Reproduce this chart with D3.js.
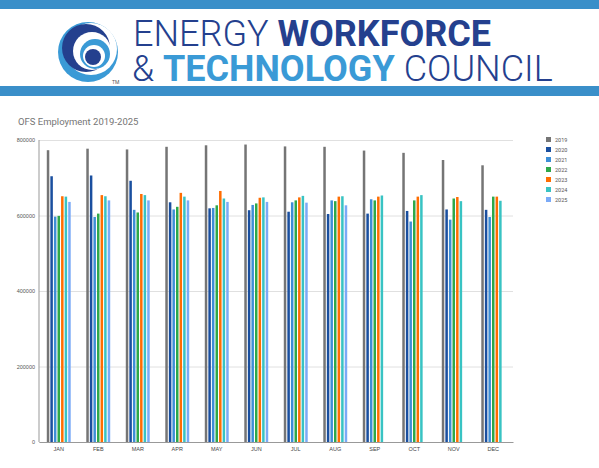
<!DOCTYPE html>
<html>
<head>
<meta charset="utf-8">
<script src="https://cdn.jsdelivr.net/npm/d3@7"></script>
<style>
  body { margin: 0; background: #fff; font-family: Roboto, "Liberation Sans", sans-serif; }
</style>
</head>
<body>
<svg id="chart" width="599" height="468"></svg>
<script>
const months = ["JAN", "FEB", "MAR", "APR", "MAY", "JUN", "JUL", "AUG", "SEP", "OCT", "NOV", "DEC"];
const years = ["2019", "2020", "2021", "2022", "2023", "2024", "2025"];
const colors = ["#757575", "#1a4f9f", "#3d8ed6", "#2ea84a", "#ff6d01", "#38c3c3", "#7baaf7"];
const yTicks = [0, 200000, 400000, 600000, 800000];

const v2019 = [773000, 777000, 775000, 782000, 786000, 788000, 783000, 782000, 772000, 766000, 747000, 733000];
const v2020 = [704000, 706000, 692000, 635000, 619000, 614000, 610000, 604000, 605000, 612000, 616000, 615000];
const v2021 = [597000, 596000, 615000, 616000, 620000, 628000, 635000, 640000, 643000, 584000, 589000, 596000];
const v2022 = [599000, 605000, 608000, 623000, 627000, 632000, 640000, 638000, 640000, 640000, 645000, 650000];
const v2023 = [651000, 654000, 657000, 660000, 665000, 647000, 648000, 650000, 650000, 650000, 649000, 650000];
const v2024 = [650000, 651000, 654000, 650000, 645000, 648000, 652000, 651000, 653000, 654000, 638000, 639000];
const v2025 = [636000, 640000, 640000, 640000, 636000, 636000, 634000, 627000];

const series = [v2019, v2020, v2021, v2022, v2023, v2024, v2025];

const svg = d3.select("#chart");

// header band
svg.append("rect").attr("x", 0).attr("y", 0).attr("width", 599).attr("height", 9).attr("fill", "#3a8fc9");
svg.append("rect").attr("x", 0).attr("y", 86).attr("width", 599).attr("height", 10).attr("fill", "#3a8fc9");

// logo
const logo = svg.append("g").attr("transform", "translate(88,52)");
logo.append("circle").attr("r", 30).attr("fill", "#3a9ad6");
logo.append("circle").attr("cx", 3).attr("cy", -3).attr("r", 26).attr("fill", "#fff");
logo.append("circle").attr("cx", -2).attr("cy", -4).attr("r", 24).attr("fill", "#24408e");
logo.append("circle").attr("cx", 4).attr("cy", -1).attr("r", 19).attr("fill", "#fff");
logo.append("circle").attr("cx", 7).attr("cy", 2).attr("r", 15).attr("fill", "#3a9ad6");
logo.append("circle").attr("cx", 6).attr("cy", 4).attr("r", 11).attr("fill", "#fff");
logo.append("circle").attr("cx", 5).attr("cy", 5).attr("r", 8).attr("fill", "#24408e");
svg.append("text").attr("x", 112).attr("y", 84).attr("font-size", 5).attr("fill", "#555").text("TM");

const h1 = svg.append("text").attr("x", 133).attr("y", 46).attr("font-size", 36).attr("font-family", "Roboto, sans-serif");
h1.append("tspan").attr("fill", "#24408e").attr("font-weight", 300).text("ENERGY ");
h1.append("tspan").attr("fill", "#24408e").attr("font-weight", 700).text("WORKFORCE");
const h2 = svg.append("text").attr("x", 132).attr("y", 81).attr("font-size", 36).attr("font-family", "Roboto, sans-serif");
h2.append("tspan").attr("fill", "#24408e").attr("font-weight", 300).text("& ");
h2.append("tspan").attr("fill", "#3a9ad6").attr("font-weight", 700).text("TECHNOLOGY ");
h2.append("tspan").attr("fill", "#24408e").attr("font-weight", 300).text("COUNCIL");

svg.append("text").attr("x", 18).attr("y", 125).attr("font-size", 9.5).attr("fill", "#757575").text("OFS Employment 2019-2025");

const margin = { top: 140, left: 39, right: 86, bottom: 26 };
const width = 599 - margin.left - margin.right;
const height = 468 - margin.top - margin.bottom;

const chart = svg.append("g").attr("transform", `translate(${margin.left},${margin.top})`);

const x0 = d3.scaleBand().domain(months).range([0, width]).paddingInner(0.34).paddingOuter(0.17);
const x1 = d3.scaleBand().domain(years).range([0, x0.bandwidth()]).padding(0.3);
const y = d3.scaleLinear().domain([0, 800000]).range([height, 0]);

chart.append("g")
  .call(d3.axisLeft(y).tickValues(yTicks).tickSize(-width).tickFormat(d3.format("d")))
  .call(g => g.select(".domain").remove())
  .call(g => g.selectAll("line").attr("stroke", "#e0e0e0"))
  .call(g => g.selectAll("text").attr("font-size", 5.5).attr("fill", "#555").attr("x", -4));

months.forEach((m, i) => {
  const grp = chart.append("g").attr("transform", `translate(${x0(m)},0)`);
  series.forEach((s, j) => {
    if (s[i] == null) return;
    grp.append("rect")
      .attr("x", x1(years[j]))
      .attr("y", y(s[i]))
      .attr("width", x1.bandwidth())
      .attr("height", height - y(s[i]))
      .attr("fill", colors[j]);
  });
});

chart.append("g")
  .attr("transform", `translate(0,${height})`)
  .call(d3.axisBottom(x0).tickSize(0).tickPadding(5))
  .call(g => g.select(".domain").attr("stroke", "#999"))
  .call(g => g.selectAll("text").attr("font-size", 5.5).attr("fill", "#444"));

chart.append("line").attr("x1", 0).attr("x2", 0).attr("y1", 0).attr("y2", height).attr("stroke", "#999");

const legend = svg.append("g").attr("transform", "translate(546,137)");
years.forEach((yr, j) => {
  legend.append("rect").attr("x", 0).attr("y", j * 10).attr("width", 5).attr("height", 5).attr("fill", colors[j]);
  legend.append("text").attr("x", 9).attr("y", j * 10 + 5).attr("font-size", 5.5).attr("fill", "#555").text(yr);
});
</script>
</body>
</html>
